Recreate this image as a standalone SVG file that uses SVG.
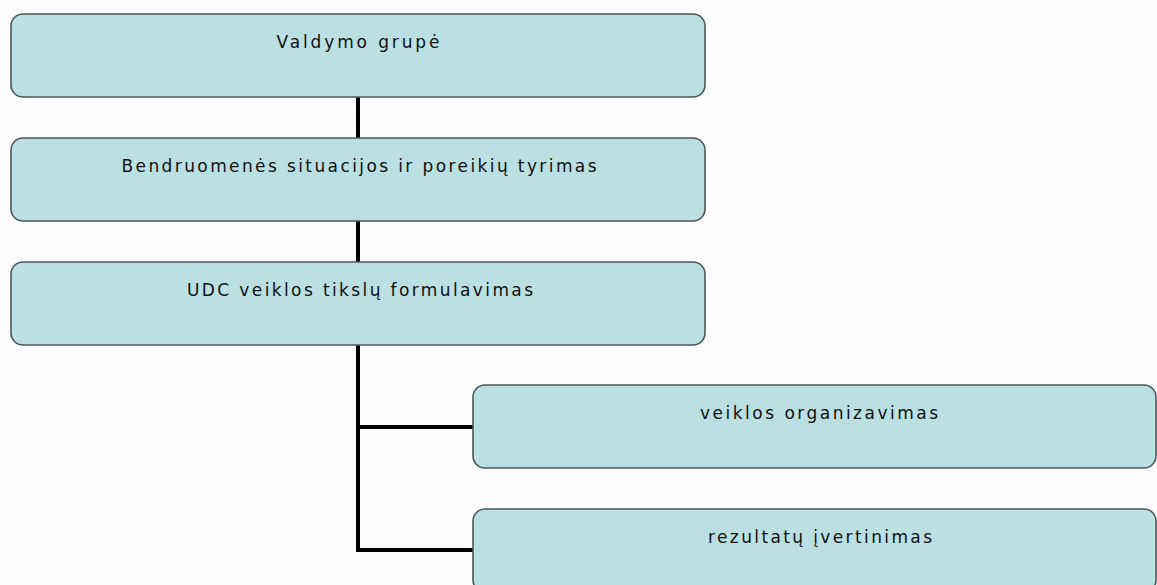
<svg xmlns="http://www.w3.org/2000/svg" width="1157" height="585" viewBox="0 0 1157 585">
<style>
.box{fill:#bae0e3;stroke:#4f5556;stroke-width:1.6}
.lbl{font-family:"DejaVu Sans","Liberation Sans",sans-serif;font-size:17px;fill:#111;text-anchor:middle}
.conn{fill:none;stroke:#000;stroke-width:4}
</style>
<rect width="1157" height="585" fill="#fdfdfd"/>
<g id="connectors">
<line class="conn" x1="358" y1="97" x2="358" y2="138"/>
<line class="conn" x1="358" y1="221" x2="358" y2="262"/>
<polyline class="conn" points="358,345 358,550 473,550"/>
<line class="conn" x1="358" y1="427" x2="473" y2="427"/>
</g>
<g id="n1"><rect class="box" x="11" y="14" width="694" height="83" rx="12"/><text class="lbl" x="358" y="48" textLength="163" lengthAdjust="spacing">Valdymo grupė</text></g>
<g id="n2"><rect class="box" x="11" y="138" width="694" height="83" rx="12"/><text class="lbl" x="359" y="172" textLength="475" lengthAdjust="spacing">Bendruomenės situacijos ir poreikių tyrimas</text></g>
<g id="n3"><rect class="box" x="11" y="262" width="694" height="83" rx="12"/><text class="lbl" x="360" y="296" textLength="346" lengthAdjust="spacing">UDC veiklos tikslų formulavimas</text></g>
<g id="n4"><rect class="box" x="473" y="385" width="683" height="83" rx="12"/><text class="lbl" x="819" y="419" textLength="238" lengthAdjust="spacing">veiklos organizavimas</text></g>
<g id="n5"><rect class="box" x="473" y="509" width="683" height="83" rx="12"/><text class="lbl" x="820" y="543" textLength="224" lengthAdjust="spacing">rezultatų įvertinimas</text></g>
</svg>
